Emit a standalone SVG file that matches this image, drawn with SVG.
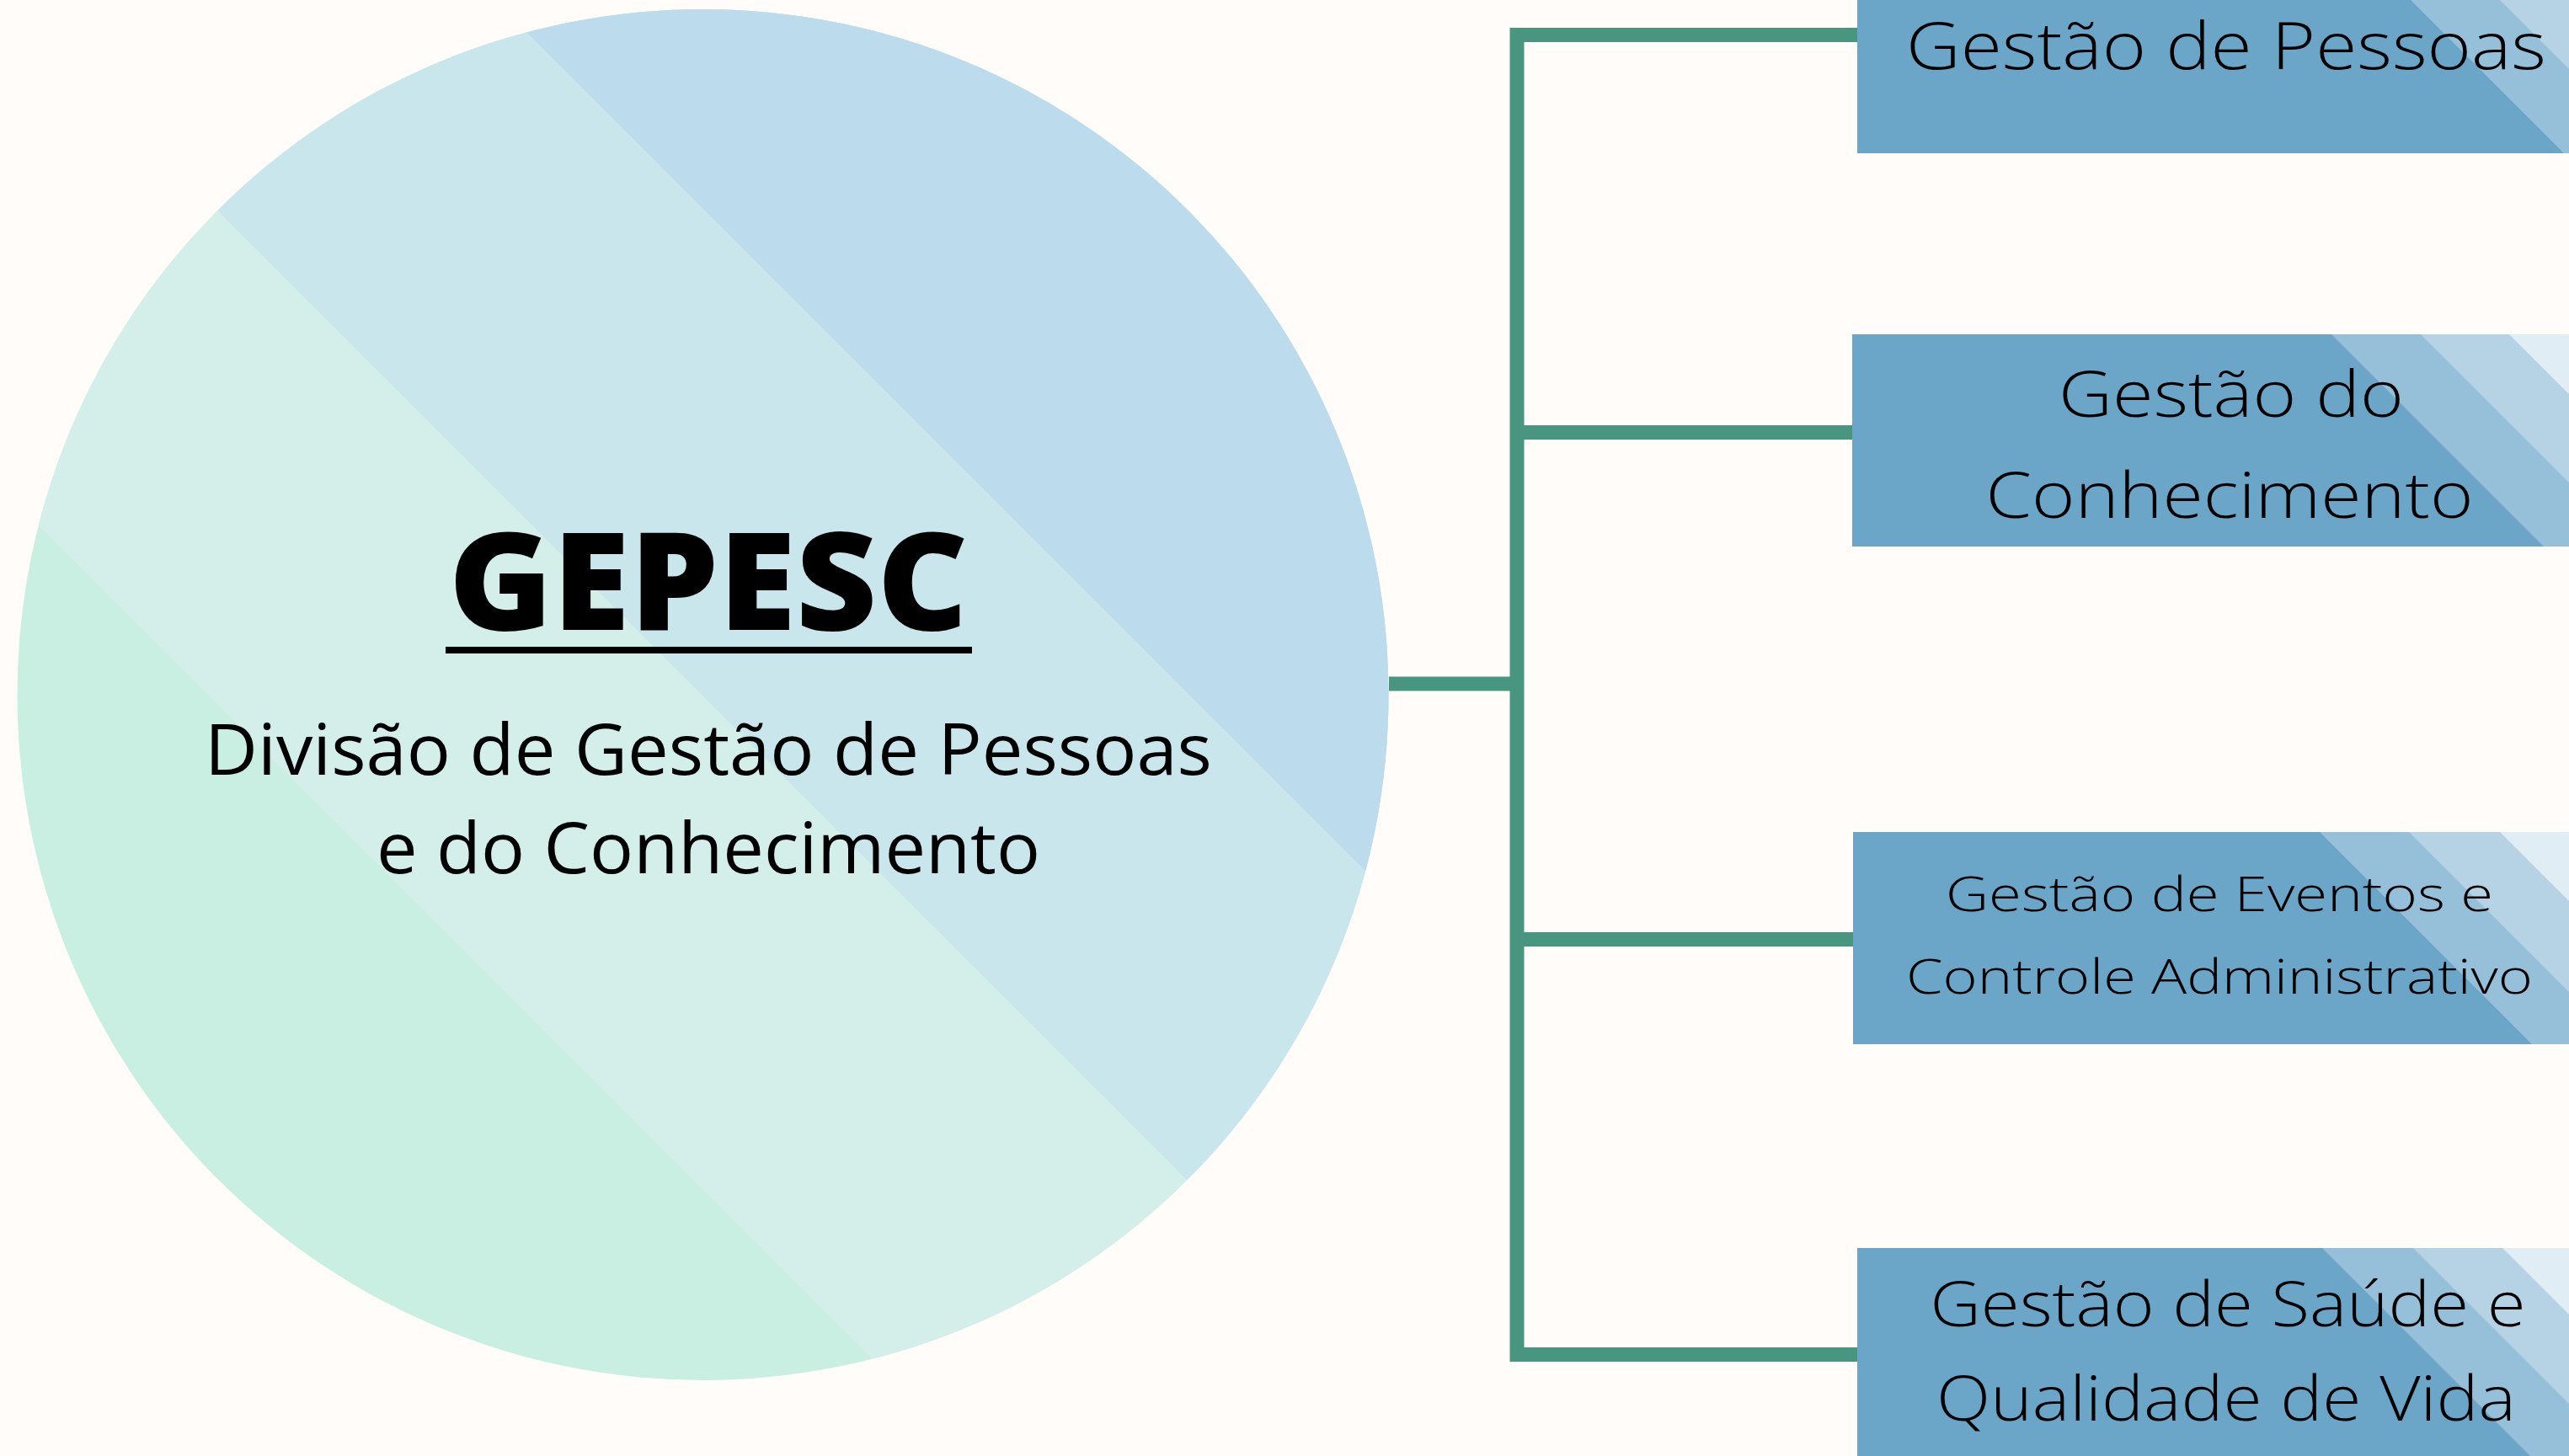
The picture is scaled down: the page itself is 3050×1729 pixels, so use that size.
<svg xmlns="http://www.w3.org/2000/svg" width="3050" height="1729" viewBox="0 0 3050 1729">
  <defs>
    <clipPath id="circClip"><circle cx="834.5" cy="825" r="814"/></clipPath>
    <clipPath id="c1"><rect x="2205" y="-69" width="900" height="251"/></clipPath>
    <clipPath id="c2"><rect x="2199" y="397" width="900" height="252"/></clipPath>
    <clipPath id="c3"><rect x="2200" y="988" width="900" height="252"/></clipPath>
    <clipPath id="c4"><rect x="2205" y="1482" width="900" height="251"/></clipPath>
  </defs>
  <style>
    .bg { fill: #fffcf9; }
    .box { fill: #6ba5c7; }
    .s1 { fill: #96bfd9; }
    .s2 { fill: #b5d3e5; }
    .s3 { fill: #e0edf5; }
    .conn { stroke: #48967f; stroke-width: 17; fill: none; stroke-linecap: butt; }
    .lbl { font-family: "Open Sans", "Noto Sans", "Liberation Sans", sans-serif; font-weight: 300; fill: #000; text-anchor: middle; }
    .sub { font-weight: 400; }
    .title { font-family: "Open Sans", "Liberation Sans", sans-serif; font-weight: 800; fill: #000; text-anchor: middle; }
  </style>
  <rect class="bg" x="0" y="0" width="3050" height="1729"/>

  <g id="connectors">
    <path class="conn" d="M1649 812 H1801"/>
    <path class="conn" d="M1801 33 V1617"/>
    <path class="conn" d="M1793 41.5 H2206"/>
    <path class="conn" d="M1801 513.5 H2200"/>
    <path class="conn" d="M1801 1115.5 H2201"/>
    <path class="conn" d="M1797 1608.5 H2206"/>
  </g>

  <g id="gepesc">
    <g clip-path="url(#circClip)">
      <rect x="0" y="0" width="1700" height="1700" fill="#c9efe3"/>
      <polygon points="-100,478 2000,2578 2000,-2000 -100,-2000" fill="#d4eeea"/>
      <polygon points="-100,-108 2000,1992 2000,-2000 -100,-2000" fill="#c9e6ec"/>
      <polygon points="-100,-687 2000,1413 2000,-2000 -100,-2000" fill="#bcdcee"/>
    </g>
    <text class="title" x="841" y="748" font-size="162" textLength="617" lengthAdjust="spacingAndGlyphs">GEPESC</text>
    <rect x="529" y="768" width="625" height="8" fill="#000"/>
    <text class="lbl sub" x="841" y="920" font-size="84" textLength="1196" lengthAdjust="spacingAndGlyphs">Divisão de Gestão de Pessoas</text>
    <text class="lbl sub" x="841" y="1037" font-size="84" textLength="788" lengthAdjust="spacingAndGlyphs">e do Conhecimento</text>
  </g>

  <g id="gestao-pessoas">
    <g clip-path="url(#c1)">
      <rect class="box" x="2205" y="-69" width="900" height="251"/>
      <polygon class="s1" points="2793,-69 3044,182 3100,182 3100,-69"/>
      <polygon class="s2" points="2899,-69 3150,182 3200,182 3200,-69"/>
      <polygon class="s3" points="3004,-69 3255,182 3300,182 3300,-69"/>
    </g>
    <text class="lbl" x="2643" y="82" font-size="77" textLength="760" lengthAdjust="spacingAndGlyphs">Gestão de Pessoas</text>
  </g>

  <g id="gestao-conhecimento">
    <g clip-path="url(#c2)">
      <rect class="box" x="2199" y="397" width="900" height="252"/>
      <polygon class="s1" points="2768,397 3020,649 3300,649 3300,397"/>
      <polygon class="s2" points="2874,397 3126,649 3300,649 3300,397"/>
      <polygon class="s3" points="2979,397 3231,649 3300,649 3300,397"/>
    </g>
    <text class="lbl" x="2649" y="495" font-size="76" textLength="410" lengthAdjust="spacingAndGlyphs">Gestão do</text>
    <text class="lbl" x="2647" y="615" font-size="76" textLength="579" lengthAdjust="spacingAndGlyphs">Conhecimento</text>
  </g>

  <g id="gestao-eventos">
    <g clip-path="url(#c3)">
      <rect class="box" x="2200" y="988" width="900" height="252"/>
      <polygon class="s1" points="2754,988 3006,1240 3300,1240 3300,988"/>
      <polygon class="s2" points="2860,988 3112,1240 3300,1240 3300,988"/>
      <polygon class="s3" points="2968,988 3220,1240 3300,1240 3300,988"/>
    </g>
    <text class="lbl" x="2635" y="1082" font-size="57" textLength="650" lengthAdjust="spacingAndGlyphs">Gestão de Eventos e</text>
    <text class="lbl" x="2635" y="1180" font-size="57" textLength="744" lengthAdjust="spacingAndGlyphs">Controle Administrativo</text>
  </g>

  <g id="gestao-saude">
    <g clip-path="url(#c4)">
      <rect class="box" x="2205" y="1482" width="900" height="251"/>
      <polygon class="s1" points="2757,1482 3008,1733 3300,1733 3300,1482"/>
      <polygon class="s2" points="2865,1482 3116,1733 3300,1733 3300,1482"/>
      <polygon class="s3" points="2971,1482 3222,1733 3300,1733 3300,1482"/>
    </g>
    <text class="lbl" x="2645" y="1575" font-size="74" textLength="707" lengthAdjust="spacingAndGlyphs">Gestão de Saúde e</text>
    <text class="lbl" x="2643" y="1687" font-size="74" textLength="688" lengthAdjust="spacingAndGlyphs">Qualidade de Vida</text>
  </g>
</svg>
